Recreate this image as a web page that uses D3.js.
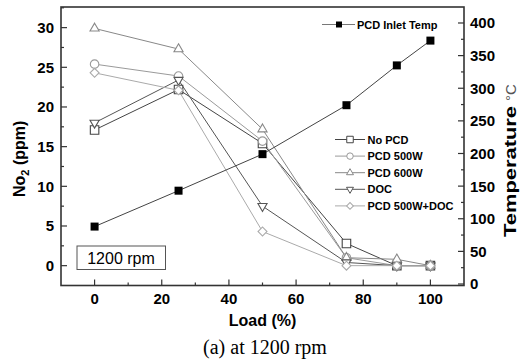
<!DOCTYPE html>
<html>
<head>
<meta charset="utf-8">
<script src="https://cdn.jsdelivr.net/npm/d3@7"></script>
<style>
  body { margin: 0; background: #fff; }
  svg { display: block; font-family: "Liberation Sans", Arial, sans-serif; }
</style>
</head>
<body>
<svg id="drawing_region"></svg>
<script>
// data
const loads = [0, 25, 50, 75, 90, 100];
const noPCD = [17.1, 22.2, 15.4, 2.8, 0, 0];
const pcd500 = [25.4, 23.9, 15.7, 1.0, 0, 0];
const pcd600 = [29.9, 27.3, 17.2, 1.0, 0.8, 0];
const doc = [18.0, 23.4, 7.5, 0.4, 0, 0];
const pcd500doc = [24.3, 22.1, 4.3, 0, 0, 0];
const inletTemp = [88, 143, 199, 274, 335, 373];

const seriesNames = ['No PCD', 'PCD 500W', 'PCD 600W', 'DOC', 'PCD 500W+DOC'];
const xTicks = [0, 20, 40, 60, 80, 100];
const yTicks = [0, 5, 10, 15, 20, 25, 30];
const tTicks = [0, 50, 100, 150, 200, 250, 300, 350, 400];

const width = 525, height = 364;
const svg = d3.select('#drawing_region').attr('width', width).attr('height', height);

const x = d3.scaleLinear().domain([-10, 110]).range([61, 464]);
const y = d3.scaleLinear().domain([-2.5, 32.6]).range([285.5, 7]);
const yT = d3.scaleLinear().domain([-2.3, 424.5]).range([285.5, 7]);

const series = [
  { name: seriesNames[0], values: noPCD, color: '#444', shape: 'square' },
  { name: seriesNames[1], values: pcd500, color: '#9a9a9a', shape: 'circle' },
  { name: seriesNames[2], values: pcd600, color: '#888', shape: 'up' },
  { name: seriesNames[3], values: doc, color: '#555', shape: 'down' },
  { name: seriesNames[4], values: pcd500doc, color: '#aaa', shape: 'diamond' }
];

function symbolPath(shape, s) {
  if (shape === 'square') return d3.symbol(d3.symbolSquare, s * s)();
  if (shape === 'circle') return d3.symbol(d3.symbolCircle, Math.PI * s * s / 4)();
  if (shape === 'diamond') return d3.symbol(d3.symbolSquare, s * s * 0.55)();
  // triangles
  return d3.symbol(d3.symbolTriangle, s * s * 0.5)();
}
function symbolRot(shape) {
  if (shape === 'down') return 180;
  if (shape === 'diamond') return 45;
  return 0;
}

// axis ticks (all inward)
const axes = svg.append('g').attr('stroke', '#333');
const minorX = d3.range(-10, 111, 10).filter(v => v > -10 && v < 110);
minorX.forEach(v => {
  const major = v % 20 === 0;
  axes.append('line').attr('x1', x(v)).attr('x2', x(v))
    .attr('y1', 285.5).attr('y2', 285.5 - (major ? 6 : 3)).attr('stroke-width', 1.2);
});
d3.range(0, 32.6, 2.5).forEach(v => {
  const major = v % 5 === 0;
  axes.append('line').attr('y1', y(v)).attr('y2', y(v))
    .attr('x1', 61).attr('x2', 61 + (major ? 6 : 3)).attr('stroke-width', 1.2);
});
d3.range(0, 424, 25).forEach(v => {
  const major = v % 50 === 0;
  axes.append('line').attr('y1', yT(v)).attr('y2', yT(v))
    .attr('x1', 464).attr('x2', 464 - (major ? 6 : 3)).attr('stroke-width', 1.2);
});

// frame
svg.append('rect').attr('x', 61).attr('y', 7).attr('width', 403).attr('height', 278.5)
  .attr('fill', 'none').attr('stroke', '#333').attr('stroke-width', 1.6);

// tick labels
svg.append('g').selectAll('text').data(xTicks).join('text')
  .attr('x', d => x(d)).attr('y', 304).attr('text-anchor', 'middle')
  .style('font-size', '15px').style('font-weight', 'bold').text(d => d);
svg.append('g').selectAll('text').data(yTicks).join('text')
  .attr('x', 54).attr('y', d => y(d) + 5.5).attr('text-anchor', 'end')
  .style('font-size', '15px').style('font-weight', 'bold').text(d => d);
svg.append('g').selectAll('text').data(tTicks).join('text')
  .attr('x', 470).attr('y', d => yT(d) + 5.5).attr('text-anchor', 'start')
  .style('font-size', '15px').style('font-weight', 'bold').text(d => d);

// axis titles
svg.append('text').attr('x', x(50)).attr('y', 326).attr('text-anchor', 'middle')
  .style('font-size', '16px').style('font-weight', 'bold').text('Load (%)');

const yl = svg.append('text').attr('transform', 'translate(25,197) rotate(-90)')
  .attr('text-anchor', 'start').style('font-size', '16px').style('font-weight', 'bold');
yl.append('tspan').text('No');
yl.append('tspan').attr('dy', 4).style('font-size', '11px').text('2');
yl.append('tspan').attr('dy', -4).text(' (ppm)');

const yr = svg.append('text').attr('transform', 'translate(516,237) rotate(-90)')
  .attr('text-anchor', 'start');
yr.append('tspan').style('font-size', '17px').style('font-weight', 'bold')
  .attr('textLength', 131).attr('lengthAdjust', 'spacingAndGlyphs').text('Temperature');
yr.append('tspan').attr('dx', 5).style('font-size', '15px').style('font-weight', 'normal')
  .style('fill', '#555').text('°C');

// caption
svg.append('text').attr('x', 265).attr('y', 354).attr('text-anchor', 'middle')
  .style('font-family', '"Liberation Serif", "Times New Roman", serif')
  .style('font-size', '20px').text('(a) at 1200 rpm');

// NO2 series
const line = d3.line().x((d, i) => x(loads[i])).y(d => y(d));
series.forEach(s => {
  svg.append('path').datum(s.values).attr('d', line)
    .attr('fill', 'none').attr('stroke', s.color).attr('stroke-width', 1);
});
series.forEach(s => {
  svg.append('g').selectAll('path').data(s.values).join('path')
    .attr('d', symbolPath(s.shape, 8.5))
    .attr('transform', (d, i) => `translate(${x(loads[i])},${y(d)}) rotate(${symbolRot(s.shape)})`)
    .attr('fill', '#fff').attr('stroke', s.color).attr('stroke-width', 1.1);
});

// inlet temperature on right axis
const tline = d3.line().x((d, i) => x(loads[i])).y(d => yT(d));
svg.append('path').datum(inletTemp).attr('d', tline)
  .attr('fill', 'none').attr('stroke', '#444').attr('stroke-width', 1);
svg.append('g').selectAll('rect').data(inletTemp).join('rect')
  .attr('x', (d, i) => x(loads[i]) - 4).attr('y', d => yT(d) - 4)
  .attr('width', 8).attr('height', 8).attr('fill', '#000');

// legend: inlet temp
svg.append('line').attr('x1', 322).attr('x2', 355).attr('y1', 24.5).attr('y2', 24.5)
  .attr('stroke', '#777').attr('stroke-width', 1);
svg.append('rect').attr('x', 336).attr('y', 21.5).attr('width', 6).attr('height', 6).attr('fill', '#000');
svg.append('text').attr('x', 357).attr('y', 28.5).style('font-size', '11px')
  .style('font-weight', 'bold').text('PCD Inlet Temp');

// legend: NO2 series
const leg = svg.append('g');
series.forEach((s, i) => {
  const ly = 139.5 + i * 16.6;
  leg.append('line').attr('x1', 335).attr('x2', 365).attr('y1', ly).attr('y2', ly)
    .attr('stroke', s.color).attr('stroke-width', 1);
  leg.append('path').attr('d', symbolPath(s.shape, 6.5))
    .attr('transform', `translate(350,${ly}) rotate(${symbolRot(s.shape)})`)
    .attr('fill', '#fff').attr('stroke', s.color).attr('stroke-width', 1);
  leg.append('text').attr('x', 367.5).attr('y', ly + 4).style('font-size', '11px')
    .style('font-weight', 'bold').text(s.name);
});

// 1200 rpm box
svg.append('rect').attr('x', 77).attr('y', 246).attr('width', 88.5).attr('height', 23.5)
  .attr('fill', '#fff').attr('stroke', '#555').attr('stroke-width', 1);
svg.append('text').attr('x', 121).attr('y', 263.5).attr('text-anchor', 'middle')
  .style('font-size', '16px').text('1200 rpm');
</script>
</body>
</html>
